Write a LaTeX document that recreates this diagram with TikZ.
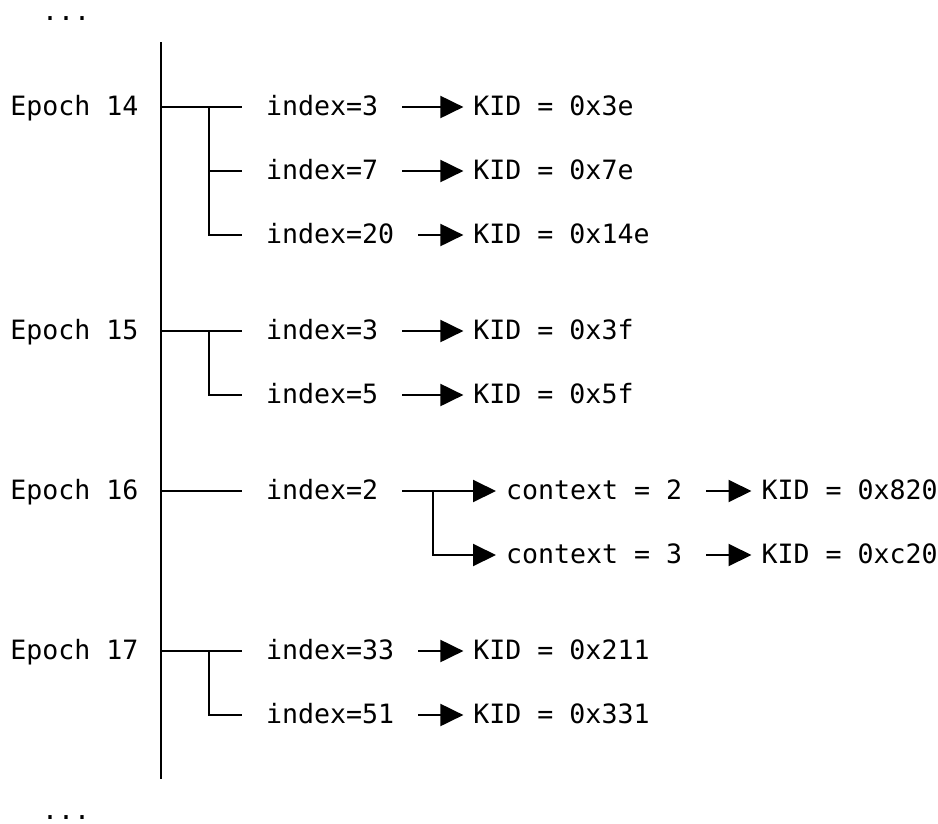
\documentclass[tikz,border=0pt]{standalone}
\usepackage{fontspec}
\setmonofont{DejaVu Sans Mono}
\usetikzlibrary{arrows.meta}
\tikzset{txt/.style={font=\ttfamily\fontsize{26.6}{32}\selectfont,inner sep=0pt,text height=18pt,text depth=2pt,anchor=west}}
\tikzset{tip/.style={-{Triangle[length=23pt,width=22pt]},shorten >=9pt}}
\tikzset{arr/.style={tip,shorten <=23pt}}
\tikzset{twig/.style={shorten >=23pt}}

\begin{document}
\begin{tikzpicture}[x=1pt,y=-1pt,line width=2pt]
        \useasboundingbox (0,0) rectangle (938,823);
        \node[txt] (dtop) at (41,12) {...};
        \node[txt] (dbot) at (41,811) {...};
        \coordinate (top) at (160.7,42);
        \coordinate (bot) at (160.7,779);
        \draw (top) -- (bot);

        \node[txt] (E14) at (9.4,107) {Epoch 14};
        \node[txt] (I14a) at (265,107) {index=3};
        \node[txt] (I14b) at (265,171) {index=7};
        \node[txt] (I14c) at (265,235) {index=20};
        \node[txt] (K14a) at (472.4,107) {KID = 0x3e};
        \node[txt] (K14b) at (472.4,171) {KID = 0x7e};
        \node[txt] (K14c) at (472.4,235) {KID = 0x14e};
        \coordinate (R14) at (160.7,107);
        \coordinate (B14) at (209,107);
        \draw[twig] (R14) -- (I14a);
        \draw[twig] (B14) |- (I14b);
        \draw[twig] (B14) |- (I14c);
        \draw[arr] (I14a) -- (K14a);
        \draw[arr] (I14b) -- (K14b);
        \draw[arr] (I14c) -- (K14c);

        \node[txt] (E15) at (9.4,331) {Epoch 15};
        \node[txt] (I15a) at (265,331) {index=3};
        \node[txt] (I15b) at (265,395) {index=5};
        \node[txt] (K15a) at (472.4,331) {KID = 0x3f};
        \node[txt] (K15b) at (472.4,395) {KID = 0x5f};
        \coordinate (R15) at (160.7,331);
        \coordinate (B15) at (209,331);
        \draw[twig] (R15) -- (I15a);
        \draw[twig] (B15) |- (I15b);
        \draw[arr] (I15a) -- (K15a);
        \draw[arr] (I15b) -- (K15b);

        \node[txt] (E16) at (9.4,491) {Epoch 16};
        \node[txt] (I16) at (265,491) {index=2};
        \node[txt] (C16a) at (505,491) {context = 2};
        \node[txt] (C16b) at (505,555) {context = 3};
        \node[txt] (K16a) at (760.5,491) {KID = 0x820};
        \node[txt] (K16b) at (760.5,555) {KID = 0xc20};
        \coordinate (R16) at (160.7,491);
        \coordinate (B16) at (432.7,491);
        \draw[twig] (R16) -- (I16);
        \draw[arr] (I16) -- (C16a);
        \draw[tip] (B16) |- (C16b);
        \draw[arr] (C16a) -- (K16a);
        \draw[arr] (C16b) -- (K16b);

        \node[txt] (E17) at (9.4,651) {Epoch 17};
        \node[txt] (I17a) at (265,651) {index=33};
        \node[txt] (I17b) at (265,715) {index=51};
        \node[txt] (K17a) at (472.4,651) {KID = 0x211};
        \node[txt] (K17b) at (472.4,715) {KID = 0x331};
        \coordinate (R17) at (160.7,651);
        \coordinate (B17) at (209,651);
        \draw[twig] (R17) -- (I17a);
        \draw[twig] (B17) |- (I17b);
        \draw[arr] (I17a) -- (K17a);
        \draw[arr] (I17b) -- (K17b);
    \end{tikzpicture}
\end{document}
